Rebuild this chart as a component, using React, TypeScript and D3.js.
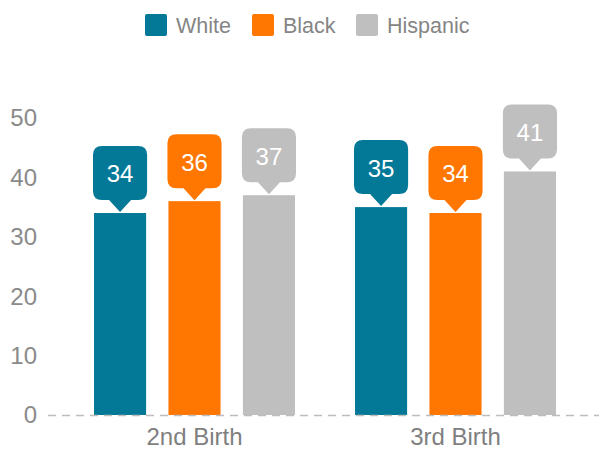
import React, { useEffect, useRef } from 'react';
import * as d3 from 'd3';

const categories = ['2nd Birth', '3rd Birth'];
const series = ['White', 'Black', 'Hispanic'];
const colors = ['#037897', '#ff7600', '#bfbfbf'];
const values = [
  [34, 36, 37], // 2nd Birth
  [35, 34, 41], // 3rd Birth
];
const yTicks = [0, 10, 20, 30, 40, 50];

const W = 599;
const H = 449;
const FONT = '"Liberation Sans", Arial, sans-serif';

export default function App() {
  const svgRef = useRef<SVGSVGElement>(null);

  useEffect(() => {
    if (!svgRef.current) return;
    const svg = d3.select(svgRef.current);
    svg.selectAll('*').remove();

    const y = d3.scaleLinear().domain([0, 50]).range([415, 118]);
    const x0 = d3.scaleBand().domain(categories).range([64, 586]);
    const x1 = d3.scaleBand().domain(series).range([30, 231]).paddingInner(0.3).paddingOuter(0);
    const color = d3.scaleOrdinal<string>().domain(series).range(colors);

    // legend
    const legendX = [145, 252, 356];
    const legend = svg.append('g');
    series.forEach((s, i) => {
      legend.append('rect')
        .attr('x', legendX[i]).attr('y', 14)
        .attr('width', 22).attr('height', 22)
        .attr('rx', 2)
        .attr('fill', color(s));
      legend.append('text')
        .attr('x', legendX[i] + 31).attr('y', 25)
        .attr('dy', '0.35em')
        .attr('fill', '#858585')
        .style('font', `21.5px ${FONT}`)
        .text(s);
    });

    // y tick labels
    svg.append('g')
      .selectAll('text')
      .data(yTicks)
      .join('text')
      .attr('x', 37)
      .attr('y', d => y(d))
      .attr('dy', '0.35em')
      .attr('text-anchor', 'end')
      .attr('fill', '#8a8a8a')
      .style('font', `24px ${FONT}`)
      .text(d => d);

    // bars
    const groups = svg.append('g')
      .selectAll('g')
      .data(categories)
      .join('g')
      .attr('transform', d => `translate(${x0(d)},0)`);

    groups.selectAll('rect')
      .data((d, i) => series.map((s, j) => ({ s, v: values[i][j] })))
      .join('rect')
      .attr('x', d => x1(d.s)!)
      .attr('y', d => y(d.v))
      .attr('width', x1.bandwidth())
      .attr('height', d => y(0) - y(d.v))
      .attr('fill', d => color(d.s));

    // callouts
    const bw = x1.bandwidth();
    const boxW = bw + 2;
    const boxH = 54;
    const ptrH = 12;
    const ptrW = 11;
    const r = 9;
    const callout = groups.selectAll('g.callout')
      .data((d, i) => series.map((s, j) => ({ s, v: values[i][j] })))
      .join('g')
      .attr('class', 'callout')
      .attr('transform', d => `translate(${x1(d.s)! + bw / 2},${y(d.v) - 1})`);

    callout.append('path')
      .attr('d', () => {
        const l = -boxW / 2, rr = boxW / 2;
        const b = -ptrH, t = -ptrH - boxH;
        return `M0,0 L${-ptrW},${b} L${l + r},${b} Q${l},${b} ${l},${b - r}
          L${l},${t + r} Q${l},${t} ${l + r},${t} L${rr - r},${t} Q${rr},${t} ${rr},${t + r}
          L${rr},${b - r} Q${rr},${b} ${rr - r},${b} L${ptrW},${b} Z`;
      })
      .attr('fill', d => color(d.s));

    callout.append('text')
      .attr('x', 0)
      .attr('y', -ptrH - boxH / 2 + 1)
      .attr('dy', '0.35em')
      .attr('text-anchor', 'middle')
      .attr('fill', '#ffffff')
      .style('font', `24px ${FONT}`)
      .text(d => d.v);

    // dashed baseline
    svg.append('line')
      .attr('x1', 48).attr('x2', W)
      .attr('y1', y(0) + 0.5).attr('y2', y(0) + 0.5)
      .attr('stroke', '#bdbdbd')
      .attr('stroke-width', 1.5)
      .attr('stroke-dasharray', '8,6');

    // category labels
    svg.append('g')
      .selectAll('text')
      .data(categories)
      .join('text')
      .attr('x', d => x0(d)! + x0.bandwidth() / 2)
      .attr('y', 437)
      .attr('dy', '0.35em')
      .attr('text-anchor', 'middle')
      .attr('fill', '#7f7f7f')
      .style('font', `24px ${FONT}`)
      .text(d => d);
  }, []);

  return (
    <svg ref={svgRef} width={W} height={H}
      style={{ position: 'absolute', left: 0, top: 0, background: '#fff' }} />
  );
}
